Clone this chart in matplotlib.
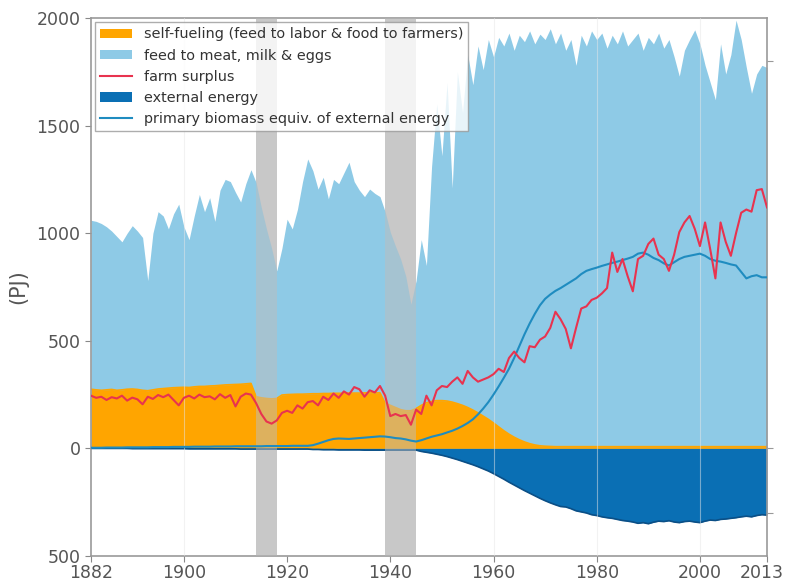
import numpy as np
import matplotlib
matplotlib.use("Agg")
import matplotlib.pyplot as plt
import matplotlib.transforms as mtransforms
from matplotlib.patches import Patch
from matplotlib.lines import Line2D

years = list(range(1882, 2014))

# feed to meat, milk & eggs (top of the light-blue area), PJ
feed = [
    1060, 1055, 1045, 1030, 1010, 985, 960, 1000, 1035, 1010,   # 1882-1891
    980, 780, 1000, 1100, 1080, 1020, 1090, 1135, 1030, 970,    # 1892-1901
    1080, 1180, 1100, 1165, 1055, 1200, 1250, 1240, 1190, 1145, # 1902-1911
    1230, 1295, 1235, 1120, 1020, 930, 825, 930, 1065, 1020,    # 1912-1921
    1110, 1240, 1345, 1290, 1205, 1260, 1160, 1250, 1230, 1280, # 1922-1931
    1330, 1240, 1200, 1170, 1205, 1185, 1170, 1100, 1005, 940,  # 1932-1941
    880, 800, 670, 780, 970, 850, 1310, 1600, 1360, 1700,       # 1942-1951
    1210, 1750, 1560, 1830, 1690, 1870, 1760, 1900, 1820, 1910, # 1952-1961
    1870, 1930, 1850, 1920, 1890, 1940, 1880, 1925, 1900, 1950, # 1962-1971
    1880, 1930, 1850, 1900, 1780, 1920, 1870, 1940, 1900, 1930, # 1972-1981
    1860, 1920, 1880, 1940, 1870, 1900, 1930, 1850, 1910, 1880, # 1982-1991
    1930, 1860, 1900, 1820, 1730, 1850, 1900, 1945, 1880, 1780, # 1992-2001
    1700, 1620, 1880, 1740, 1830, 1990, 1900, 1770, 1650, 1740, # 2002-2011
    1780, 1770,                                                 # 2012-2013
]

# self-fueling (feed to labor & food to farmers), PJ
self_fueling = [
    275, 272, 270, 272, 274, 270, 272, 275, 276, 274,
    270, 268, 272, 276, 278, 280, 282, 283, 284, 283,
    286, 288, 288, 290, 291, 293, 295, 296, 297, 298,
    300, 302, 240, 235, 232, 230, 232, 248, 250, 251,
    252, 252, 253, 254, 254, 255, 255, 256, 256, 256,
    257, 257, 257, 258, 258, 258, 258, 210, 200, 190,
    180, 175, 175, 185, 200, 212, 218, 222, 222, 220,
    215, 208, 200, 190, 178, 165, 150, 135, 118, 100,
    82, 66, 52, 40, 30, 22, 16, 12, 10, 9,
    8, 8, 8, 8, 8, 8, 8, 8, 8, 8,
    8, 8, 8, 8, 8, 8, 8, 8, 8, 8,
    8, 8, 8, 8, 8, 8, 8, 8, 8, 8,
    8, 8, 8, 8, 8, 8, 8, 8, 8, 8,
    8, 8,
]

# farm surplus, PJ
surplus = [
    245, 235, 240, 225, 238, 232, 245, 222, 236, 228,
    205, 240, 230, 248, 238, 250, 225, 200, 235, 245,
    232, 250, 238, 242, 228, 252, 235, 248, 195, 240,
    255, 250, 210, 160, 125, 115, 130, 165, 175, 165,
    200, 185, 215, 220, 200, 240, 225, 255, 235, 265,
    250, 285, 275, 240, 270, 260, 290, 245, 150, 160,
    150, 155, 110, 180, 160, 245, 200, 270, 290, 285,
    310, 330, 300, 360, 330, 310, 320, 330, 345, 370,
    355, 420, 450, 420, 400, 475, 470, 505, 520, 560,
    635, 600, 555, 465, 560, 650, 660, 690, 700, 720,
    745, 910, 820, 880, 800, 730, 880, 895, 950, 975,
    900, 880, 825, 900, 1005, 1050, 1080, 1020, 940, 1050,
    925, 790, 1050, 960, 895, 1000, 1095, 1110, 1100, 1200,
    1205, 1120,
]

# external energy (drawn below zero), PJ
external = [
    0, 0, 0, 0, 0, 0, 0, 0, -1, -1,
    -1, -1, -1, -1, -1, -1, -1, -1, -1, -2,
    -2, -2, -2, -2, -2, -2, -2, -2, -2, -3,
    -3, -3, -3, -3, -3, -3, -3, -3, -3, -3,
    -3, -3, -3, -5, -5, -6, -6, -6, -7, -7,
    -7, -7, -7, -8, -8, -8, -8, -8, -8, -8,
    -8, -8, -8, -8, -14, -18, -22, -27, -32, -38,
    -45, -52, -60, -68, -76, -85, -95, -105, -117, -130,
    -143, -157, -170, -183, -196, -208, -220, -232, -243, -253,
    -262, -270, -272, -280, -290, -295, -300, -308, -312, -318,
    -322, -325, -330, -335, -338, -342, -348, -345, -350, -343,
    -338, -340, -336, -342, -345, -340, -338, -342, -345, -338,
    -333, -335, -330, -328, -325, -322, -318, -315, -318, -312,
    -308, -310,
]

# primary biomass equivalent of external energy, PJ
primary_equiv = [
    3, 3, 3, 4, 4, 4, 4, 5, 5, 5,
    5, 5, 6, 6, 6, 6, 7, 7, 7, 7,
    8, 8, 8, 8, 9, 9, 9, 9, 10, 10,
    10, 10, 10, 10, 11, 11, 11, 11, 11, 12,
    12, 12, 12, 15, 22, 30, 38, 44, 46, 45,
    44, 46, 48, 50, 52, 54, 56, 55, 52, 48,
    46, 42, 36, 32, 38, 46, 54, 60, 66, 74,
    82, 92, 104, 118, 135, 158, 185, 215, 250, 288,
    328, 370, 420, 475, 530, 580, 625, 665, 695, 715,
    732, 745, 760, 775, 790, 810, 825, 833, 840, 848,
    855, 862, 868, 875, 882, 890, 905, 910, 900, 885,
    875, 860, 850, 865, 880, 890, 895, 900, 905, 895,
    880, 872, 868, 862, 855, 850, 820, 790, 800, 805,
    795, 795,
]

war_periods = [(1914, 1918), (1939, 1945)]
x_ticks = [1882, 1900, 1920, 1940, 1960, 1980, 2000, 2013]
y_ticks = [-500, 0, 500, 1000, 1500, 2000]
y_tick_labels = ["500", "0", "500", "1000", "1500", "2000"]

c_orange = "#ffa500"
c_light = "#8ecae6"
c_red = "#e8334f"
c_dark = "#0a6fb4"
c_line = "#1f8cc0"
c_text = "#555555"

fig = plt.figure(figsize=(7.86, 5.82), dpi=100)
ax = fig.add_axes([91 / 786, 26 / 582, 676 / 786, 538 / 582])

# war periods: solid band behind the areas, translucent veil over them
for start, end in war_periods:
    ax.axvspan(start, end, facecolor="#d4d4d4", alpha=1.0, lw=0, zorder=0.5)

ax.fill_between(years, 0, feed, color=c_light, lw=0, zorder=1)
ax.fill_between(years, 0, self_fueling, color=c_orange, lw=0, zorder=2)
ax.plot(years, self_fueling, color=c_orange, lw=1.2, zorder=2)
ax.fill_between(years, external, 0, color=c_dark, lw=0, zorder=2)
ax.plot(years, external, color="#0b4f86", lw=1.2, zorder=2)

for start, end in war_periods:
    ax.axvspan(start, end, facecolor="#bdbdbd", alpha=0.5, lw=0, zorder=3)

ax.plot(years, primary_equiv, color=c_line, lw=1.5, zorder=4)
ax.plot(years, surplus, color=c_red, lw=1.5, zorder=5)

for xt in (1900, 1960, 1980, 2000):
    ax.axvline(xt, color="#e6e6e6", lw=0.8, alpha=0.5, zorder=3.5)

ax.set_xlim(1882, 2013)
ax.set_ylim(-500, 2000)
ax.set_xticks(x_ticks)
ax.set_xticklabels([str(x) for x in x_ticks])
ax.set_yticks(y_ticks)
ax.set_yticklabels(y_tick_labels)
ax.tick_params(axis="both", colors="#888888", labelcolor=c_text,
               labelsize=12.5, length=4, direction="out")
ax.tick_params(axis="x", pad=2)
for sp in ax.spines.values():
    sp.set_color("#999999")
    sp.set_linewidth(1.2)
ax.set_ylabel("(PJ)", fontsize=15, color=c_text, labelpad=6)

# keep the last year label inside the canvas
last = ax.get_xticklabels()[-1]
last.set_transform(last.get_transform() +
                   mtransforms.ScaledTranslation(-5 / 100, 0, fig.dpi_scale_trans))

# unlabelled marks on the right-hand side
axr = ax.twinx()
axr.set_ylim(-500, 2000)
axr.set_yticks([-300, 0, 1800])
axr.set_yticklabels(["", "", ""])
axr.tick_params(axis="y", colors="#999999", length=4)
for sp in axr.spines.values():
    sp.set_visible(False)

handles = [
    Patch(facecolor=c_orange, edgecolor="none"),
    Patch(facecolor=c_light, edgecolor="none"),
    Line2D([], [], color=c_red, lw=1.5),
    Patch(facecolor=c_dark, edgecolor="none"),
    Line2D([], [], color=c_line, lw=1.5),
]
labels = [
    "self-fueling (feed to labor & food to farmers)",
    "feed to meat, milk & eggs",
    "farm surplus",
    "external energy",
    "primary biomass equiv. of external energy",
]
leg = ax.legend(handles, labels, loc="upper left", fontsize=10.4,
                frameon=True, fancybox=False, borderaxespad=0.3,
                handlelength=2.2, handleheight=0.6, labelspacing=0.5,
                borderpad=0.35, handletextpad=0.8)
leg.get_frame().set_edgecolor("#999999")
leg.get_frame().set_linewidth(1.0)
leg.set_zorder(10)
for t in leg.get_texts():
    t.set_color("#333333")

fig.savefig("out.png", dpi=100)
